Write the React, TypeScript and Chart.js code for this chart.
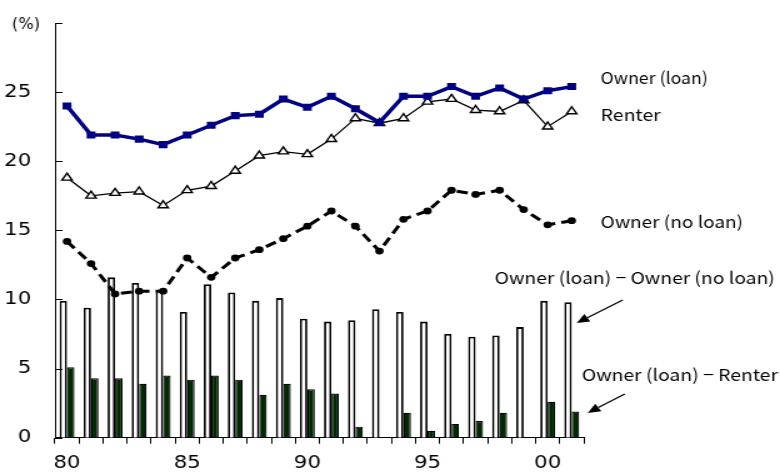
import React, { useEffect, useRef } from 'react';
import { Chart, registerables } from 'chart.js';

Chart.register(...registerables);

// ---- data ----
const years = ['80', '81', '82', '83', '84', '85', '86', '87', '88', '89', '90', '91', '92', '93', '94', '95', '96', '97', '98', '99', '00', '01'];
const shownYearLabels = ['80', '85', '90', '95', '00'];
const ownerLoan = [24.0, 21.9, 21.9, 21.6, 21.2, 21.9, 22.6, 23.3, 23.4, 24.5, 23.9, 24.7, 23.8, 22.8, 24.7, 24.7, 25.4, 24.7, 25.3, 24.5, 25.1, 25.4];
const renter = [18.8, 17.5, 17.7, 17.8, 16.8, 17.9, 18.2, 19.3, 20.4, 20.7, 20.5, 21.6, 23.1, 22.75, 23.1, 24.3, 24.5, 23.7, 23.6, 24.4, 22.5, 23.6];
const ownerNoLoan = [14.2, 12.6, 10.4, 10.6, 10.6, 13.0, 11.6, 13.0, 13.6, 14.4, 15.3, 16.4, 15.3, 13.5, 15.8, 16.4, 17.9, 17.6, 17.9, 16.5, 15.4, 15.7];
const gapVsNoLoan = [9.9, 9.4, 11.6, 11.2, 10.7, 9.1, 11.1, 10.5, 9.9, 10.1, 8.6, 8.4, 8.5, 9.3, 9.1, 8.4, 7.5, 7.3, 7.4, 8.0, 9.9, 9.8];
const gapVsRenter = [5.1, 4.3, 4.3, 3.9, 4.5, 4.2, 4.5, 4.2, 3.1, 3.9, 3.5, 3.2, 0.8, 0, 1.8, 0.5, 1.0, 1.2, 1.8, 0, 2.6, 1.9];
const yMin = 0;
const yMax = 30;
const yStep = 5;
const yUnitLabel = '(%)';

const seriesNames = {
  loan: 'Owner (loan)',
  renter: 'Renter',
  noLoan: 'Owner (no loan)',
  gapNoLoan: 'Owner (loan) − Owner (no loan)',
  gapRenter: 'Owner (loan) − Renter',
};

const FONT = '"Noto Sans CJK JP", "Noto Sans", sans-serif';
const TICK_FONT = '"DejaVu Sans", sans-serif';
const STRETCH = 1.25;
const W = 780;
const H = 474;

const overlay = {
  id: 'overlay',
  afterDraw(chart: any) {
    const { ctx, chartArea } = chart;
    const y = chart.scales.y;
    const R = chartArea.right;
    ctx.save();
    // inward y tick marks
    ctx.strokeStyle = '#000';
    ctx.lineWidth = 1;
    y.ticks.forEach((t: any) => {
      const py = Math.round(y.getPixelForValue(t.value)) + 0.5;
      ctx.beginPath();
      ctx.moveTo(chartArea.left, py);
      ctx.lineTo(chartArea.left + 6, py);
      ctx.stroke();
    });
    ctx.fillStyle = '#000';
    ctx.textBaseline = 'middle';
    // unit label at the top of the y axis
    ctx.font = `15px ${TICK_FONT}`;
    ctx.textAlign = 'center';
    {
      const m = ctx.measureText(yUnitLabel).width;
      ctx.save();
      ctx.translate(chartArea.left - 23.2, y.getPixelForValue(yMax) + 2.3);
      ctx.scale(22.4 / m, 1);
      ctx.fillText(yUnitLabel, 0, 0);
      ctx.restore();
    }
    // series labels: [text, x offset from plot right, y value, width]
    ctx.font = `16.5px ${FONT}`;
    ctx.textAlign = 'left';
    const notes: [string, number, number, number][] = [
      [seriesNames.loan, 13.6, 26.03, 85.6],
      [seriesNames.renter, 13.6, 23.35, 48],
      [seriesNames.noLoan, 13.6, 15.61, 113.8],
      [seriesNames.gapNoLoan, -71.2, 11.56, 224],
      [seriesNames.gapRenter, -1.6, 4.54, 157],
    ];
    notes.forEach(([t, dx, v, w]) => {
      const m = ctx.measureText(t).width;
      const k = w / m;
      ctx.save();
      ctx.translate(R + dx, y.getPixelForValue(v));
      ctx.scale(k, 1);
      ctx.fillText(t, 0, 0);
      ctx.restore();
    });
    // arrows
    const arrows: [number, number, number, number][] = [
      [31.2, 9.96, -5.6, 8.29],
      [32.8, 3.16, 3.2, 1.79],
    ];
    arrows.forEach(([tdx, tv, hdx, hv]) => {
      const x1 = R + tdx, y1 = y.getPixelForValue(tv);
      const x2 = R + hdx, y2 = y.getPixelForValue(hv);
      const ang = Math.atan2(y2 - y1, x2 - x1);
      const len = 10, hw = 4.5;
      const bx = x2 - Math.cos(ang) * len, by = y2 - Math.sin(ang) * len;
      ctx.beginPath();
      ctx.moveTo(x1, y1);
      ctx.lineTo(bx, by);
      ctx.lineWidth = 1.3;
      ctx.stroke();
      ctx.beginPath();
      ctx.moveTo(x2, y2);
      ctx.lineTo(bx - Math.sin(ang) * hw, by + Math.cos(ang) * hw);
      ctx.lineTo(bx + Math.sin(ang) * hw, by - Math.cos(ang) * hw);
      ctx.closePath();
      ctx.fill();
    });
    ctx.restore();
  },
};

export default function App() {
  const ref = useRef<HTMLCanvasElement | null>(null);
  useEffect(() => {
    if (!ref.current) return;
    const chart = new Chart(ref.current, {
      type: 'bar',
      data: {
        labels: years,
        datasets: [
          {
            type: 'line',
            label: seriesNames.loan,
            data: ownerLoan,
            borderColor: '#000080',
            backgroundColor: '#000080',
            borderWidth: 3.5,
            pointStyle: 'rect',
            pointRadius: 5,
            pointBorderWidth: 0,
            order: 1,
          } as any,
          {
            type: 'line',
            label: seriesNames.renter,
            data: renter,
            borderColor: '#000',
            backgroundColor: '#fff',
            borderWidth: 1.3,
            pointStyle: 'triangle',
            pointRadius: 4.7,
            pointBorderWidth: 1.4,
            pointBorderColor: '#000',
            pointBackgroundColor: '#fff',
            order: 1,
          } as any,
          {
            type: 'line',
            label: seriesNames.noLoan,
            data: ownerNoLoan,
            borderColor: '#000',
            backgroundColor: '#000',
            borderWidth: 3,
            borderDash: [9, 5],
            pointStyle: 'circle',
            pointRadius: 3.4,
            pointBorderWidth: 0,
            order: 1,
          } as any,
          {
            type: 'bar',
            label: seriesNames.gapNoLoan,
            data: gapVsNoLoan,
            backgroundColor: '#fff',
            borderColor: '#000',
            borderWidth: 1.8,
            categoryPercentage: 0.62,
            barPercentage: 1,
            order: 2,
          } as any,
          {
            type: 'bar',
            label: seriesNames.gapRenter,
            data: gapVsRenter,
            backgroundColor: '#002a00',
            borderColor: '#000',
            borderWidth: 1.2,
            categoryPercentage: 0.62,
            barPercentage: 1,
            order: 2,
          } as any,
        ],
      },
      options: {
        responsive: false,
        animation: false,
        layout: { padding: { top: 23, right: 157, left: 0, bottom: 0 } },
        plugins: { legend: { display: false }, tooltip: { enabled: false } },
        scales: {
          x: {
            grid: { display: true, drawOnChartArea: false, drawTicks: true, tickLength: 6, color: '#000', lineWidth: 1 },
            border: { display: true, color: '#000', width: 1 },
            ticks: {
              autoSkip: false,
              maxRotation: 0,
              padding: 10,
              color: '#000',
              font: { family: TICK_FONT, size: 17 },
              callback: (_v: any, i: number) => (shownYearLabels.includes(years[i]) ? years[i] : ''),
            },
            afterFit: (s: any) => {
              s.height = 36.3;
            },
          },
          y: {
            min: yMin,
            max: yMax,
            grid: { display: false },
            border: { display: true, color: '#000', width: 1 },
            ticks: {
              stepSize: yStep,
              padding: 11,
              color: '#000',
              font: { family: TICK_FONT, size: 17 },
              callback: (v: any) => (v === yMax ? '' : String(v)),
            },
            afterFit: (s: any) => {
              s.width = 44;
            },
          },
        },
      } as any,
      plugins: [overlay],
    });
    return () => chart.destroy();
  }, []);
  return (
    <div style={{ position: 'fixed', left: 0, top: 0, width: W, height: H, background: '#fff' }}>
      <canvas
        ref={ref}
        width={Math.round(W / STRETCH)}
        height={H}
        style={{ width: W, height: H, display: 'block' }}
      />
    </div>
  );
}
